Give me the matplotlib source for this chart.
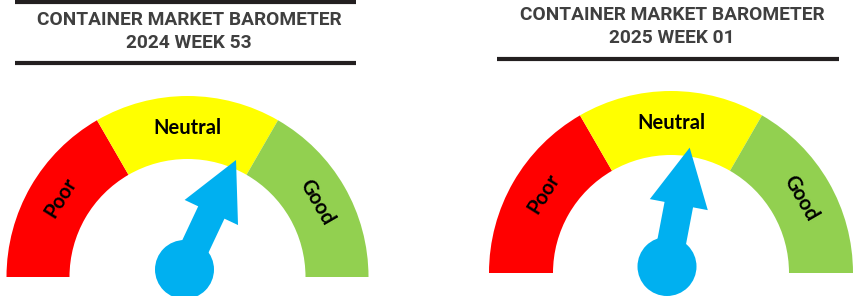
import numpy as np
import matplotlib
matplotlib.use("Agg")
import matplotlib.pyplot as plt
from matplotlib.patches import Wedge, Circle, Polygon

# data
titles = ["CONTAINER MARKET BAROMETER\n2024 WEEK 53",
          "CONTAINER MARKET BAROMETER\n2025 WEEK 01"]
zone_labels = ["Poor", "Neutral", "Good"]
zone_colors = ["#FF0000", "#FFFF00", "#92D050"]
# needle reading, 0 = far left (Poor) .. 100 = far right (Good)
readings = [64, 56]

# layout in pixels (y measured upward from the bottom)
gauges = [
    dict(cx=187.5, cy=19, R=181, r=118, hub=(184.5, 26.5),
         title_x=189, title_y=(276, 253), lines=[(15, 356, 294.5), (15, 356, 233)]),
    dict(cx=671, cy=23, R=182, r=118, hub=(667, 29.5),
         title_x=672, title_y=(281, 258), lines=[(497, 839, 237.5)]),
]

fig = plt.figure(figsize=(8.56, 2.96), dpi=100)
ax = fig.add_axes([0, 0, 1, 1])
ax.set_xlim(0, 856)
ax.set_ylim(0, 296)
ax.axis("off")

title_color = "#3F3F3F"
needle_color = "#00B0F0"

for g, title, value in zip(gauges, titles, readings):
    cx, cy, R, r = g["cx"], g["cy"], g["R"], g["r"]
    mid = (R + r) / 2

    # three equal zones
    for i, (lab, col) in enumerate(zip(zone_labels, zone_colors)):
        t1 = 180 - 60 * i
        t0 = t1 - 60
        ax.add_patch(Wedge((cx, cy), R, t0, t1, width=R - r, facecolor=col,
                           edgecolor="none"))
        ang = (t0 + t1) / 2
        if lab == "Poor":
            ang = 148
        elif lab == "Good":
            ang = 30
        tx = cx + mid * np.cos(np.radians(ang))
        ty = cy + mid * np.sin(np.radians(ang))
        ax.text(tx, ty, lab, ha="center", va="center", rotation=ang - 90,
                rotation_mode="anchor", fontsize=14.5, fontweight="bold",
                family="Lato", color="black")

    # needle
    hx, hy = g["hub"]
    theta = np.radians(180 * (1 - value / 100))
    u = np.array([np.cos(theta), np.sin(theta)])
    v = np.array([-u[1], u[0]])
    length, head_len, head_w, shaft_w = 121, 58, 59, 29
    base = np.array([hx, hy])
    neck = base + u * (length - head_len)
    tip = base + u * length
    pts = [base + v * shaft_w / 2, neck + v * shaft_w / 2, neck + v * head_w / 2,
           tip, neck - v * head_w / 2, neck - v * shaft_w / 2, base - v * shaft_w / 2]
    ax.add_patch(Polygon(pts, closed=True, facecolor=needle_color, edgecolor="none"))
    ax.add_patch(Circle((hx, hy), 29.5, facecolor=needle_color, edgecolor="none"))

    # title and rules
    l1, l2 = title.split("\n")
    ax.text(g["title_x"], g["title_y"][0], l1, ha="center", va="center",
            fontsize=13.8, fontweight="bold", family="Roboto", color=title_color)
    ax.text(g["title_x"], g["title_y"][1], l2, ha="center", va="center",
            fontsize=13.8, fontweight="bold", family="Roboto", color=title_color)
    for x0, x1, y in g["lines"]:
        ax.plot([x0, x1], [y, y], color="#231F20", lw=3, solid_capstyle="butt")

fig.savefig("out.png", dpi=100)
